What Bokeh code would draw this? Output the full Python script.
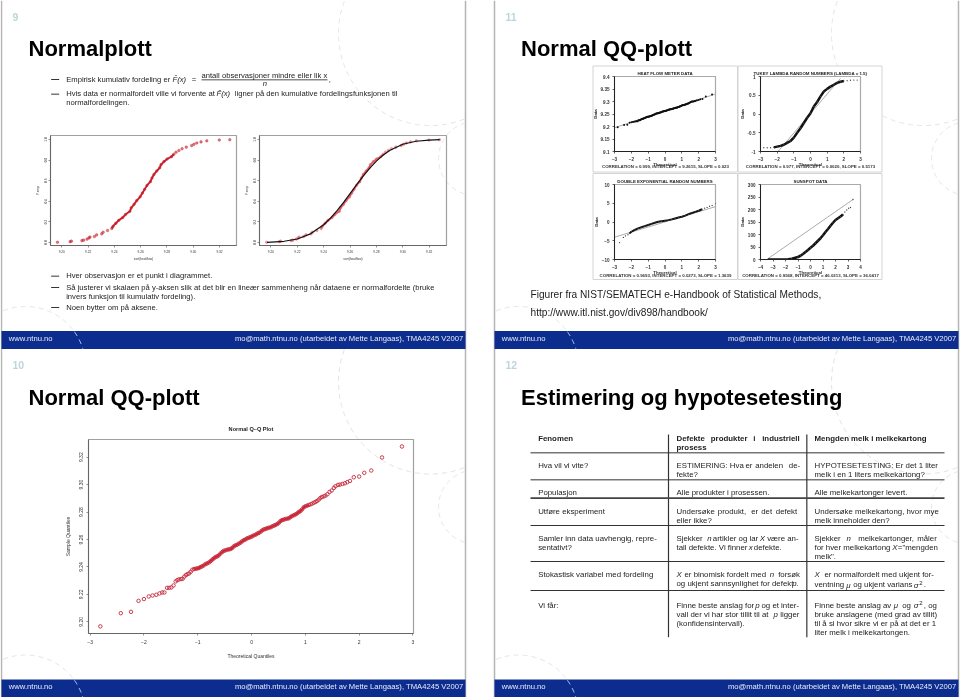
import numpy as np
from bokeh.plotting import figure
from bokeh.layouts import column
from bokeh.models import FixedTicker, ColumnDataSource, Range1d
from bokeh.core.properties import value
from bokeh.embed import file_html
from bokeh.resources import INLINE

# ---- data
qq_x = [-2.81,-2.43,-2.24,-2.10,-2.00,-1.91,-1.84,-1.77,-1.71,-1.66,-1.62,-1.57,-1.53,-1.49,-1.45,-1.41,-1.38,-1.35,-1.31,-1.28,-1.25,-1.22,-1.19,-1.16,-1.13,-1.10,
 -1.066,-1.04,-1.01,-.98,-.95,-.92,-.89,-.855,-.825,-.79,-.76,-.73,-.70,-.67,-.64,-.61,-.58,-.545,-.515,-.485,-.45,-.42,-.39,-.36,-.33,-.30,-.27,-.235,-.205,-.175,-.14,-.11,-.08,-.05,-.02,
 .01,.04,.075,.105,.135,.17,.20,.23,.26,.29,.32,.355,.385,.415,.445,.48,.51,.54,.57,.60,.63,.665,.695,.725,.755,.79,.82,.85,.88,.91,.94,.97,1.00,1.035,1.065,1.10,1.13,1.16,1.19,1.22,1.25,1.28,1.31,1.345,1.375,1.41,1.45,1.49,1.53,1.56,1.605,1.64,1.69,1.735,1.78,1.83,1.90,2.00,2.095,2.225,2.425,2.795]
qq_y = [9.1967,9.2063,9.2073,9.2153,9.2166,9.2185,9.2192,9.2197,9.2207,9.2214,9.2214,9.2248,9.2248,9.2251,9.2265,9.2295,9.2304,9.2309,9.2312,9.2314,9.2329,9.2341,9.2348,9.2353,9.2365,9.2380,
 9.2385,9.2387,9.2389,9.2392,9.2399,9.2404,9.2411,9.2421,9.2426,9.2433,9.2443,9.2453,9.2463,9.2472,9.2477,9.2484,9.2497,9.2509,9.2518,9.2521,9.2526,9.2528,9.2531,9.2538,9.2550,9.2557,9.2562,9.2570,9.2577,9.2587,9.2596,9.2601,9.2609,9.2613,9.2618,
 9.2623,9.2630,9.2635,9.2643,9.2648,9.2657,9.2667,9.2674,9.2677,9.2682,9.2686,9.2689,9.2696,9.2701,9.2706,9.2713,9.2723,9.2735,9.2742,9.2745,9.2750,9.2752,9.2755,9.2764,9.2772,9.2777,9.2784,9.2791,9.2801,9.2808,9.2820,9.2835,9.2842,9.2847,9.2852,9.2857,9.2862,9.2869,9.2874,9.2881,9.2891,9.2903,9.2910,9.2915,9.2920,9.2930,9.2947,9.2957,9.2976,9.2988,9.2998,9.3000,9.3005,9.3010,9.3018,9.3027,9.3054,9.3059,9.3086,9.3103,9.3198,9.3278]

ecdf_x = [9.1967,9.2063,9.2073,9.2153,9.2166,9.2192,9.2207,9.2214,9.2248,9.2265,9.2304,9.2314,9.2348,9.2380,9.2389,9.2411,9.2433,9.2463,9.2484,9.2518,9.2528,9.2550,9.2570,9.2596,9.2613,9.2630,9.2648,9.2674,9.2686,9.2701,9.2723,9.2745,9.2755,9.2777,9.2801,9.2835,9.2852,9.2869,9.2891,9.2915,9.2947,9.2988,9.3005,9.3027,9.3059,9.3103,9.3198,9.3278]
ecdf_f = [.003,.008,.013,.018,.023,.033,.044,.053,.058,.074,.084,.100,.117,.136,.156,.187,.215,.242,.271,.303,.337,.371,.407,.444,.480,.516,.554,.591,.626,.661,.695,.726,.756,.785,.811,.834,.857,.877,.894,.911,.926,.941,.954,.966,.977,.987,.995,.998]
ecdf_dense_x = [9.2380,9.2389,9.2411,9.2433,9.2463,9.2484,9.2518,9.2528,9.2550,9.2570,9.2596,9.2613,9.2630,9.2648,9.2674,9.2686,9.2701,9.2723,9.2745,9.2755,9.2777,9.2801,9.2835,9.2852]
ecdf_dense_f = [.136,.156,.187,.215,.242,.271,.303,.337,.371,.407,.444,.480,.516,.554,.591,.626,.661,.695,.726,.756,.785,.811,.834,.857]
normal_x = [9.197,9.21,9.22,9.23,9.24,9.245,9.25,9.255,9.26,9.265,9.27,9.275,9.28,9.285,9.29,9.30,9.31,9.32,9.328]
normal_f = [.002,.012,.034,.084,.173,.234,.307,.387,.474,.561,.645,.723,.79,.848,.894,.954,.983,.995,.998]

tukey_x = [-2.8,-2.6,-2.4,-2.2,-2,-1.8,-1.6,-1.4,-1.2,-1,-.8,-.6,-.4,-.2,0,.2,.4,.6,.8,1,1.2,1.4,1.6,1.8,2,2.2,2.4,2.6,2.8]
tukey_y = [-.9,-.9,-.9,-.89,-.87,-.85,-.82,-.77,-.72,-.63,-.5,-.38,-.24,-.1,.02,.2,.32,.47,.6,.67,.73,.78,.83,.86,.88,.89,.9,.905,.905]
dexp_x = [-2.7,-2.47,-2.35,-2.2,-2.1,-2,-1.8,-1.6,-1.4,-1.2,-1,-.8,-.6,-.4,-.2,0,.2,.4,.6,.8,1,1.2,1.4,1.6,1.8,2,2.2,2.35,2.5,2.65,2.8,3]
dexp_y = [-5.5,-4.1,-3.7,-3.4,-3.0,-2.6,-2.1,-1.7,-1.4,-1.1,-.8,-.5,-.2,.05,.2,.35,.5,.7,.95,1.2,1.4,1.7,2.1,2.4,2.7,3.0,3.4,3.7,3.9,4.2,4.4,4.9]
sun_x = [-3.4,-3.2,-3,-2.8,-2.6,-2.4,-2.2,-2,-1.8,-1.5,-1,-.8,-.6,-.4,-.2,0,.2,.4,.6,.8,1,1.2,1.4,1.6,1.8,2,2.2,2.4,2.6,2.75,2.9,3.05,3.2,3.4]
sun_y = [0,0,0,0,0,0,0,0,1,3,10,15,22,30,38,47,55,65,75,85,97,110,122,135,147,158,165,172,180,190,198,205,208,240]
heat_fit = ([-3,3],[9.195,9.33])
tukey_fit = ([-1.95,1.8],[-1,.95])
dexp_fit = ([-3,3],[-4.05,4.1])
sun_fit = ([-3.5,3.4],[0,240])

ecdf_xticks = [9.20,9.22,9.24,9.26,9.28,9.30,9.32]
ecdf_yticks = [0,.2,.4,.6,.8,1]
qq_xticks = [-3,-2,-1,0,1,2,3]
qq_yticks = [9.20,9.22,9.24,9.26,9.28,9.30,9.32]
heat_yticks = [9.1,9.15,9.2,9.25,9.3,9.35,9.4]
tukey_yticks = [-1,-.5,0,.5,1]
dexp_yticks = [-10,-5,0,5,10]
sun_xticks = [-4,-3,-2,-1,0,1,2,3,4]
sun_yticks = [0,50,100,150,200,250,300]

FONT = "Liberation Sans"
BLUE = "#0c2c8e"
INK = "#1c1c1c"
DECOR = "#dfe4e6"

base = figure(width=960, height=697, x_range=Range1d(0,960), y_range=Range1d(697,0),
              x_axis_type=None, y_axis_type=None, toolbar_location=None, output_backend="svg",
              min_border=0, outline_line_color=None, background_fill_color="white", border_fill_color="white",
              frame_align=False, styles={"position":"fixed","left":"0px","top":"0px"})
base.grid.visible = False

offsets = [(0,0),(493,0),(0,348.5),(493,348.5)]
def arc(cx,cy,r,dx,dy,xmax=464.0,ymax=331.0,ymin=0.0,color=DECOR):
    t = np.linspace(0,2*np.pi,500)
    x = cx+r*np.cos(t); y = cy+r*np.sin(t)
    keep = (x>=2)&(x<=xmax)&(y>=ymin)&(y<=ymax)
    x = np.where(keep,x+dx,np.nan); y = np.where(keep,y+dy,np.nan)
    base.line(x,y,line_color=color,line_width=1,line_dash="5 4")

for dx,dy in offsets:
    arc(430,33,92,dx,dy)
    arc(475,158,37,dx,dy)
    arc(25,366,60,dx,dy)
    base.segment([1+dx,465+dx],[dy,dy],[1+dx,465+dx],[348.5+dy,348.5+dy],line_color="#b4b4b4",line_width=1.5)
    base.quad(left=1+dx,right=465+dx,top=331+dy-0.5,bottom=348.5+dy,fill_color=BLUE,line_color=None)
    arc(25,366,60,dx,dy,ymin=331,ymax=348.5,color="#c9d3ee")

T = {}
def t(style,x,y,s,align="left",angle=0):
    T.setdefault(style,[]).append((x,y,s,align,angle))

# footers, numbers, titles
for (dx,dy),num in zip(offsets,["9","11","10","12"]):
    t("foot",8.3+dx,338+dy-0.5,"www.ntnu.no")
    t("foot",463+dx,338+dy-0.5,"mo@math.ntnu.no (utarbeidet av Mette Langaas), TMA4245 V2007","right")
    t("num",12+dx,16+dy,num)
t("title",28,48,"Normalplott")
t("title",520.5,48,"Normal QQ-plott")
t("title",28,397,"Normal QQ-plott")
t("title",520.5,397,"Estimering og hypotesetesting")

# slide 9 text
Z = lambda v: v/3
t("body",Z(197),Z(236),"Empirisk kumulativ fordeling er")
t("ital",Z(516),Z(236),"F̂(x)")
t("body",Z(574),Z(236),"=")
t("body",Z(603),Z(224),"antall observasjoner mindre eller lik x")
t("ital",Z(787),Z(248),"n")
t("body",Z(985),Z(236),",")
t("body",Z(197),Z(280),"Hvis data er normalfordelt ville vi forvente at")
t("ital",Z(648),Z(280),"F̂(x)")
t("body",Z(703),Z(280),"ligner på den kumulative fordelingsfunksjonen til")
t("body",Z(197),Z(307),"normalfordelingen.")
t("body",Z(197),Z(826),"Hver observasjon er et punkt i diagrammet.")
t("body",Z(197),Z(860),"Så justerer vi skalaen på y-aksen slik at det blir en lineær sammenheng når dataene er normalfordelte (bruke")
t("body",Z(197),Z(887),"invers funksjon til kumulativ fordeling).")
t("body",Z(197),Z(921),"Noen bytter om på aksene.")
base.segment([Z(152)]*5,[Z(v) for v in (237,281,827,861,921)],[Z(176)]*5,[Z(v) for v in (237,281,827,861,921)],line_color="#333333",line_width=1)
base.segment([Z(603)],[Z(238)],[Z(981)],[Z(238)],line_color="#222222",line_width=0.8)

# slide 11 text + panels
t("fig",530,294,"Figurer fra NIST/SEMATECH e-Handbook of Statistical Methods,")
t("fig",530,312,"http://www.itl.nist.gov/div898/handbook/")
for l,r,tp,b in [(592.5,737,65.5,171.5),(737.5,881.5,65.5,171.5),(592.5,737,173,279),(737.5,881.5,173,279)]:
    base.quad(left=l,right=r,top=tp,bottom=b,fill_color="white",line_color="#d4d4d4",line_width=1)
t("nistc",665,166,"CORRELATION = 0.999, INTERCEPT = 9.2615, SLOPE = 0.023","center")
t("nistc",810,166,"CORRELATION = 0.977, INTERCEPT = 0.0020, SLOPE = 0.5173","center")
t("nistc",665,274.5,"CORRELATION = 0.9693, INTERCEPT = 0.0273, SLOPE = 1.3639","center")
t("nistc",810,274.5,"CORRELATION = 0.9568, INTERCEPT = 46.0213, SLOPE = 36.0417","center")

# slide 12 table
X0 = 480
def c(xz,yz,s,style="tab"):
    t(style,X0+xz/3,350+yz/3,s)
for xz,yz,s in [(173,345,"Hva vil vi vite?"),(173,427,"Populasjon"),(173,482,"Utføre eksperiment"),
  (173,564,"Samler inn data uavhengig, repre-"),(173,591,"sentativt?"),(173,673,"Stokastisk variabel med fordeling"),(173,764,"Vi får:"),
  (588,345,"ESTIMERING:"),(748,345,"Hva"),(795,345,"er"),(824,345,"andelen"),(925,345,"de-"),(588,372,"fekte?"),(588,427,"Alle produkter i prosessen."),
  (588,482,"Undersøke"),(712,482,"produkt,"),(812,482,"er"),(842,482,"det"),(886,482,"defekt"),(588,509,"eller ikke?"),
  (588,564,"Sjekker"),(697,564,"artikler og lar"),(860,564,"være an-"),
  (588,591,"tall defekte. Vi finner"),(820,591,"defekte."),
  (612,673,"er binomisk fordelt med"),(893,673,"forsøk"),(588,700,"og ukjent sannsynlighet for defekt"),
  (588,764,"Finne beste anslag for"),(843,764,"og et inter-"),(588,791,"vall der vi har stor tillit til at"),(899,791,"ligger"),(588,818,"(konfidensintervall)."),
  (1002,345,"HYPOTESETESTING: Er det 1 liter"),(1002,372,"melk i en 1 liters melkekartong?"),(1002,427,"Alle melkekartonger levert."),
  (1002,482,"Undersøke melkekartong, hvor mye"),(1002,509,"melk inneholder den?"),
  (1002,564,"Sjekker"),(1133,564,"melkekartonger,"),(1310,564,"måler"),
  (1002,591,"for hver melkekartong"),(1252,591,'="mengden'),(1002,618,'melk".'),
  (1032,673,"er normalfordelt med ukjent for-"),(1002,703,"ventning"),(1118,703,"og ukjent varians"),(1330,703,"."),
  (1002,764,"Finne beste anslag av"),(1265,764,"og"),(1330,764,", og"),(1002,791,"bruke anslagene (med grad av tillit)"),
  (1002,818,"til å si hvor sikre vi er på at det er 1"),(1002,845,"liter melk i melkekartongen.")]:
    c(xz,yz,s)
for xz,yz,s in [(680,564,"n"),(838,564,"X"),(805,591,"x"),(588,673,"X"),(868,673,"n"),(935,700,"p."),(824,764,"p"),(879,791,"p"),
  (1098,564,"n"),(1235,591,"X"),(1002,673,"X"),(1097,705,"μ"),(1300,705,"σ"),(1240,766,"μ"),(1300,766,"σ")]:
    c(xz,yz,s,"tabi")
for xz,yz in [(1316,696),(1316,757)]:
    c(xz,yz,"2","tabs")
for xz,yz,s in [(173,264,"Fenomen"),(588,264,"Defekte"),(691,264,"produkter"),(818,264,"i"),(845,264,"industriell"),(588,291,"prosess"),(1002,264,"Mengden melk i melkekartong")]:
    c(xz,yz,s,"tabb")
base.segment([X0+564/3,X0+979/3],[434,434],[X0+564/3,X0+979/3],[636.7,636.7],line_color="#333333",line_width=1.2)
hy = [350+v/3 for v in (307,388,525,633,720)]
base.segment([530]*5,hy,[944]*5,hy,line_color="#333333",line_width=1)
base.segment([530],[350+443/3],[944],[350+443/3],line_color="#444444",line_width=1.6)

STY = {"foot":(7.65,"normal","#e8ecf6"),"num":(10.5,"bold","#bcd6dc"),"title":(22,"bold","#000000"),
       "body":(7.65,"normal",INK),"ital":(7.65,"italic",INK),"fig":(10.15,"normal",INK),
       "nistc":(4.4,"bold","#333333"),"tab":(7.85,"normal",INK),"tabi":(7.85,"italic",INK),"tabb":(7.85,"bold",INK),"tabs":(6,"normal",INK)}
for k,rows in T.items():
    fs,st,col = STY[k]
    src = ColumnDataSource(dict(x=[r[0] for r in rows],y=[r[1] for r in rows],s=[r[2] for r in rows],a=[r[3] for r in rows]))
    base.text("x","y",text="s",source=src,text_font=value(FONT),text_font_size=f"{fs}px",text_font_style=st,text_color=col,
              text_align="a",text_baseline="middle")

# real plots
ML,MR,MT,MB = 42,8,30,34
def panel(l,tp,r,b,xr,yr,xticks,yticks,xlabel,ylabel,tick_fs,lab_fs,ybold=False,outline="#a0a0a0",ttl=None,ttl_fs=5,
          xfmt=None,yfmt=None,ystand=2,xstand=2,ylab_stand=2,xlab_stand=2,yvert=True,ttl_stand=2,axis_col="#666666"):
    w,h = round(r-l),round(b-tp)
    f = figure(width=w+ML+MR,height=h+MT+MB,frame_width=w,frame_height=h,x_range=Range1d(*xr),y_range=Range1d(*yr),
               toolbar_location=None,output_backend="svg",min_border_left=ML,min_border_right=MR,min_border_top=MT,min_border_bottom=MB,
               background_fill_alpha=0,border_fill_alpha=0,outline_line_color=outline,outline_line_width=1.2,frame_align=False,
               styles={"position":"fixed","left":f"{round(l)-ML}px","top":f"{round(tp)-MT}px"})
    f.grid.visible=False
    for ax,ticks,lab,fmt,st,lst in ((f.xaxis[0],xticks,xlabel,xfmt,xstand,xlab_stand),(f.yaxis[0],yticks,ylabel,yfmt,ystand,ylab_stand)):
        ax.ticker=FixedTicker(ticks=ticks)
        ax.axis_label=lab
        ax.axis_label_text_font=FONT
        ax.axis_label_text_font_size=f"{lab_fs}px"
        ax.axis_label_text_font_style="bold" if ybold else "normal"
        ax.axis_label_text_color="#333333"
        ax.axis_label_standoff=lst
        ax.major_label_text_font=FONT
        ax.major_label_text_font_size=f"{tick_fs}px"
        ax.major_label_text_font_style="bold" if ybold else "normal"
        ax.major_label_text_color="#333333"
        ax.major_label_standoff=st
        ax.major_tick_in=0
        ax.major_tick_out=2
        ax.minor_tick_line_color=None
        ax.major_tick_line_color=axis_col
        ax.axis_line_color=axis_col
        ax.major_tick_line_width=0.7
        if fmt: ax.major_label_overrides=fmt
    if yvert: f.yaxis[0].major_label_orientation="vertical"
    if ttl:
        f.title.text=ttl
        f.title.align="center"
        f.title.text_font=FONT
        f.title.text_font_size=f"{ttl_fs}px"
        f.title.text_font_style="bold"
        f.title.text_color="#222222"
        f.title.standoff=ttl_stand
    return f

RED="#c8202e"
e1 = panel(50,135,236,245,(9.1914,9.3329),(-.029,1.039),ecdf_xticks,ecdf_yticks,"sort(heatflow)","F.emp",3.2,3.2,
           xfmt={v:f"{v:.2f}" for v in ecdf_xticks},yfmt={v:f"{v:.1f}" for v in ecdf_yticks},xstand=2,ylab_stand=1,xlab_stand=1)
e1.line(ecdf_dense_x,ecdf_dense_f,line_color=RED,line_width=1.9)
e1.scatter(ecdf_x,ecdf_f,size=2.6,fill_color=RED,line_color=RED,line_width=0.4,fill_alpha=0.6)
e2 = panel(259,135,446,245,(9.1913,9.3332),(-.029,1.039),ecdf_xticks,ecdf_yticks,"sort(heatflow)","F.emp",3.2,3.2,
           xfmt={v:f"{v:.2f}" for v in ecdf_xticks},yfmt={v:f"{v:.1f}" for v in ecdf_yticks},xstand=2,ylab_stand=1,xlab_stand=1)
e2.line(ecdf_dense_x,ecdf_dense_f,line_color="#e05a60",line_width=1.9)
e2.scatter(ecdf_x,ecdf_f,size=2.6,fill_color="#e0606a",line_color="#e0606a",line_width=0.4,fill_alpha=0.6)
e2.line(normal_x,normal_f,line_color="#111111",line_width=1.2)

qq = panel(88,439,413,633,(-3.03,3.01),(9.1915,9.3329),qq_xticks,qq_yticks,"Theoretical Quantiles","Sample Quantiles",5,5,
           ttl="Normal Q–Q Plot",ttl_fs=5.6,ttl_stand=15,
           xfmt={v:(str(v).replace("-","−")) for v in qq_xticks},yfmt={v:f"{v:.2f}" for v in qq_yticks},
           xstand=4,ystand=3,ylab_stand=6,xlab_stand=6)
qq.line(qq_x[26:96],qq_y[26:96],line_color="#dd1c24",line_width=2)
qq.scatter(qq_x,qq_y,marker="circle",size=3.5,fill_color=None,line_color="#c42a3c",line_width=0.9)

NK=dict(tick_fs=4.6,lab_fs=4.4,ybold=True,outline="#aaaaaa",ttl_fs=4.4,ttl_stand=1,yvert=False,axis_col="#222222",ystand=3,xstand=3,ylab_stand=0,xlab_stand=-2)
n1 = panel(614,76,715,151,(-3,3),(9.1,9.4),qq_xticks,heat_yticks,"Theoretical","Data",ttl="HEAT FLOW METER DATA",
           yfmt={9.1:"9.1",9.15:"9.15",9.2:"9.2",9.25:"9.25",9.3:"9.3",9.35:"9.35",9.4:"9.4"},**NK)
n1.line(*heat_fit,line_color="#888888",line_width=0.7)
n1.scatter(qq_x,qq_y,size=2,fill_color="#111111",line_color=None)
n2 = panel(760,76,860,151,(-3,3),(-1,1),qq_xticks,tukey_yticks,"Theoretical","Data",ttl="TUKEY LAMBDA RANDOM NUMBERS (LAMBDA = 1.5)",
           yfmt={-1:"-1",-.5:"-0.5",0:"0",.5:"0.5",1:"1"},**NK)
n2.line(*tukey_fit,line_color="#888888",line_width=0.7)
n2.line(tukey_x[3:-4],tukey_y[3:-4],line_color="#111111",line_width=2.5)
n2.scatter(tukey_x,tukey_y,size=1.3,fill_color="#444444",line_color=None)
n3 = panel(614,184,715,259,(-3,3),(-10,10),qq_xticks,dexp_yticks,"Theoretical","Data",ttl="DOUBLE EXPONENTIAL RANDOM NUMBERS",**NK)
n3.line(*dexp_fit,line_color="#888888",line_width=0.7)
n3.line(dexp_x[4:-5],dexp_y[4:-5],line_color="#111111",line_width=2)
n3.scatter(dexp_x,dexp_y,size=1.3,fill_color="#444444",line_color=None)
n4 = panel(760,184,860,259,(-4,4),(0,300),sun_xticks,sun_yticks,"Theoretical","Data",ttl="SUNSPOT DATA",**NK)
n4.line(*sun_fit,line_color="#888888",line_width=0.7)
n4.line(sun_x[:-5],sun_y[:-5],line_color="#111111",line_width=2.6)
n4.scatter(sun_x,sun_y,size=1.3,fill_color="#444444",line_color=None)

page = column(base,e1,e2,qq,n1,n2,n3,n4)
open("out.html","w").write(file_html(page,INLINE))
